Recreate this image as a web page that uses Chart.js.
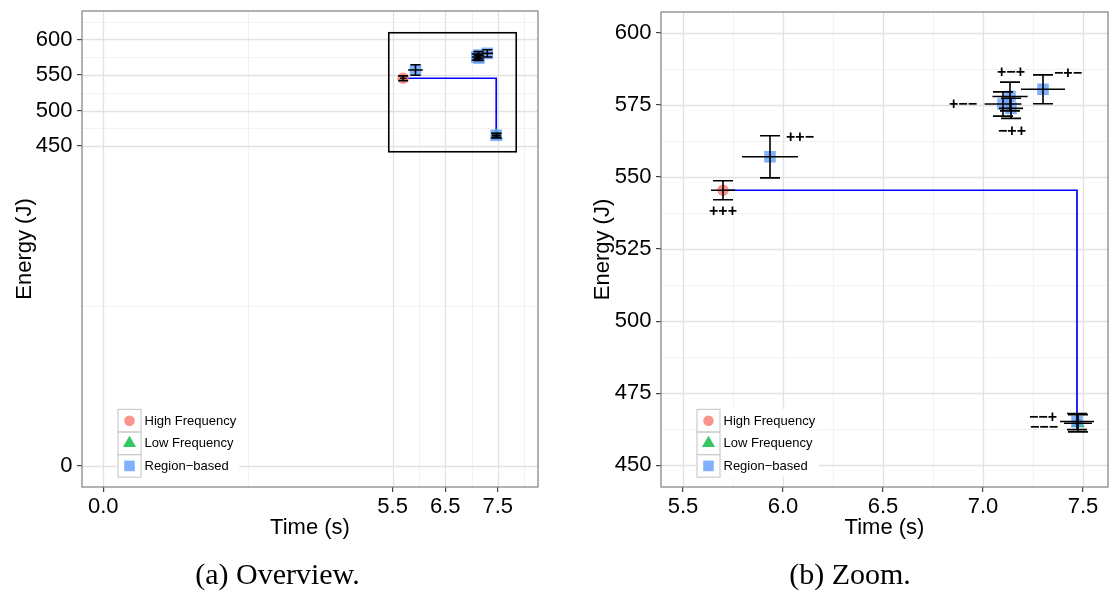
<!DOCTYPE html>
<html><head><meta charset="utf-8">
<script src="https://cdn.jsdelivr.net/npm/chart.js@4/dist/chart.umd.min.js"></script>
<style>
html,body{margin:0;padding:0;background:#fff;width:1110px;height:592px;overflow:hidden;}
.wrap{position:absolute;top:0;width:555px;height:592px;}
canvas{display:block;}
</style></head><body>
<div class="wrap" style="left:0"><canvas id="c1" width="555" height="592"></canvas></div>
<div class="wrap" style="left:555px"><canvas id="c2" width="555" height="592"></canvas></div>
<script>
// ---------------- data ----------------
const configLabels = ['+++','++−','+−+','+−−','−++','−+−','−−+','−−−'];
const configGroup  = ['High Frequency','Region−based','Region−based','Region−based','Region−based','Region−based','Region−based','Low Frequency'];
const timeMean     = [5.700, 5.935, 7.135, 7.100, 7.140, 7.300, 7.470, 7.475];
const timeErr      = [0.060, 0.140, 0.088, 0.092, 0.060, 0.110, 0.085, 0.070];
const energyMean   = [545.4, 557.0, 577.9, 575.3, 573.8, 580.4, 465.2, 464.6];
const energyErr    = [3.3, 7.3, 5.0, 4.2, 3.5, 5.0, 2.8, 3.0];
const labelTime    = [5.700, 6.085, 7.140, 6.900, 7.145, 7.425, 7.300, 7.305];
const labelEnergy  = [538.0, 563.6, 586.2, 575.2, 565.6, 585.7, 466.6, 463.1];
const frontTime    = [5.700, 7.470];
const frontEnergy  = [545.4, 465.2];
const zoomBoxTime   = [5.427, 7.850];
const zoomBoxEnergy = [442.0, 609.4];
const overviewTimeTicks   = [0, 5.5, 6.5, 7.5];
const overviewEnergyTicks = [0, 450, 500, 550, 600];
const zoomTimeTicks       = [5.5, 6.0, 6.5, 7.0, 7.5];
const zoomEnergyTicks     = [450, 475, 500, 525, 550, 575, 600];
const overviewTimeRange   = [-0.405, 8.264];
const overviewEnergyRange = [-29.5, 640];
const zoomTimeRange       = [5.39, 7.625];
const zoomEnergyRange     = [442.5, 607.2];
const seriesNames = ['High Frequency','Low Frequency','Region−based'];

// ---------------- style ----------------
const seriesColors = ['rgba(248,118,109,0.78)','rgba(0,186,56,0.8)','rgba(97,156,255,0.8)'];
const seriesShapes = ['circle','triangle','rect'];
const seriesRadius = [5.8, 7.8, 8.2];
const seriesOrder  = [1, 3, 2];
const SANS = 'Liberation Sans';

function minorOf(ticks, range){
  const out = [];
  for (let i = 0; i < ticks.length - 1; i++) out.push((ticks[i] + ticks[i+1]) / 2);
  const s0 = (ticks[1] - ticks[0]) / 2, s1 = (ticks[ticks.length-1] - ticks[ticks.length-2]) / 2;
  const lo = ticks[0] - s0, hi = ticks[ticks.length-1] + s1;
  if (lo > range[0]) out.push(lo);
  if (hi < range[1]) out.push(hi);
  return out;
}

function drawSymbol(ctx, shape, cx, cy, color){
  ctx.fillStyle = color;
  ctx.beginPath();
  if (shape === 'circle') { ctx.arc(cx, cy, 5.3, 0, Math.PI*2); }
  else if (shape === 'triangle') {
    const r = 7.6;
    ctx.moveTo(cx, cy - r); ctx.lineTo(cx + r*0.866, cy + r*0.5); ctx.lineTo(cx - r*0.866, cy + r*0.5); ctx.closePath();
  } else { const h = 5.3; ctx.rect(cx - h, cy - h, 2*h, 2*h); }
  ctx.fill();
}

function makeChart(id, o){
  const datasets = seriesNames.map((name, gi) => ({
    label: name,
    data: configGroup.map((g, i) => g === name ? {x: timeMean[i], y: energyMean[i]} : null).filter(Boolean),
    pointStyle: seriesShapes[gi],
    pointRadius: seriesRadius[gi],
    backgroundColor: seriesColors[gi],
    borderWidth: 0,
    order: seriesOrder[gi]
  }));
  datasets.push({
    label: 'front',
    data: frontTime.map((t, i) => ({x: t, y: frontEnergy[i]})),
    showLine: true, stepped: 'before', borderColor: '#0000ff', borderWidth: 1.7,
    pointRadius: 0, fill: false, order: 10
  });

  const minorX = minorOf(o.xTicks, o.xRange), minorY = minorOf(o.yTicks, o.yRange);

  const panelPlugin = {
    id: 'panel',
    beforeDatasetsDraw(chart){
      const {ctx, chartArea: a, scales: {x, y}} = chart;
      ctx.save();
      ctx.beginPath(); ctx.rect(a.left, a.top, a.width, a.height); ctx.clip();
      const vline = (v, c, w) => { const p = Math.round(x.getPixelForValue(v)) + 0.5; ctx.strokeStyle = c; ctx.lineWidth = w; ctx.beginPath(); ctx.moveTo(p, a.top); ctx.lineTo(p, a.bottom); ctx.stroke(); };
      const hline = (v, c, w) => { const p = Math.round(y.getPixelForValue(v)) + 0.5; ctx.strokeStyle = c; ctx.lineWidth = w; ctx.beginPath(); ctx.moveTo(a.left, p); ctx.lineTo(a.right, p); ctx.stroke(); };
      minorX.forEach(v => vline(v, '#f2f2f2', 1));
      minorY.forEach(v => hline(v, '#f2f2f2', 1));
      o.xTicks.forEach(v => vline(v, '#e2e2e2', 1.3));
      o.yTicks.forEach(v => hline(v, '#e2e2e2', 1.3));
      ctx.restore();
    },
    afterDatasetsDraw(chart){
      const {ctx, chartArea: a, scales: {x, y}} = chart;
      ctx.save();
      ctx.beginPath(); ctx.rect(a.left, a.top, a.width, a.height); ctx.clip();
      // error bars
      ctx.strokeStyle = '#000'; ctx.lineWidth = 1.6;
      for (let i = 0; i < timeMean.length; i++) {
        const px = x.getPixelForValue(timeMean[i]), py = y.getPixelForValue(energyMean[i]);
        const xl = x.getPixelForValue(timeMean[i] - timeErr[i]), xr = x.getPixelForValue(timeMean[i] + timeErr[i]);
        const yt = y.getPixelForValue(energyMean[i] + energyErr[i]), yb = y.getPixelForValue(energyMean[i] - energyErr[i]);
        const c = o.cap / 2;
        ctx.beginPath();
        ctx.moveTo(xl, py); ctx.lineTo(xr, py);
        ctx.moveTo(px, yt); ctx.lineTo(px, yb);
        ctx.moveTo(px - c, yt); ctx.lineTo(px + c, yt);
        ctx.moveTo(px - c, yb); ctx.lineTo(px + c, yb);
        ctx.stroke();
      }
      // point labels
      if (o.labels) {
        ctx.fillStyle = '#000';
        ctx.font = 'bold 16px "' + SANS + '"';
        ctx.textAlign = 'center'; ctx.textBaseline = 'middle';
        for (let i = 0; i < configLabels.length; i++) {
          ctx.fillText(configLabels[i], x.getPixelForValue(labelTime[i]), y.getPixelForValue(labelEnergy[i]));
        }
      }
      // zoom box
      if (o.box) {
        ctx.strokeStyle = '#000'; ctx.lineWidth = 1.6;
        const x0 = x.getPixelForValue(zoomBoxTime[0]), x1 = x.getPixelForValue(zoomBoxTime[1]);
        const y0 = y.getPixelForValue(zoomBoxEnergy[1]), y1 = y.getPixelForValue(zoomBoxEnergy[0]);
        ctx.strokeRect(x0, y0, x1 - x0, y1 - y0);
      }
      // legend
      const rowH = 22.6, keyW = 23;
      const lx = a.left + 35.5, ly = a.bottom - 10.3 - rowH * 3;
      ctx.font = '13px "' + SANS + '"';
      let tw = 0; seriesNames.forEach(n => tw = Math.max(tw, ctx.measureText(n).width));
      ctx.fillStyle = '#fff';
      ctx.fillRect(lx, ly, keyW + 4 + tw + 3, rowH * 3);
      seriesNames.forEach((n, gi) => {
        const ty = ly + gi * rowH;
        ctx.strokeStyle = '#cccccc'; ctx.lineWidth = 1.2;
        ctx.strokeRect(lx + 0.5, ty + 0.5, keyW, rowH);
        drawSymbol(ctx, seriesShapes[gi], lx + keyW/2 + 0.5, ty + rowH/2 + 0.5, seriesColors[gi]);
        ctx.fillStyle = '#000'; ctx.textAlign = 'left'; ctx.textBaseline = 'middle';
        ctx.fillText(n, lx + keyW + 4, ty + rowH/2 + 1);
      });
      ctx.restore();
    },
    afterDraw(chart){
      const {ctx, chartArea: a} = chart;
      ctx.save();
      ctx.strokeStyle = '#7f7f7f'; ctx.lineWidth = 1.2;
      ctx.strokeRect(a.left, a.top, a.width, a.height);
      ctx.fillStyle = '#000';
      ctx.font = '30px "Liberation Serif"';
      ctx.textAlign = 'center'; ctx.textBaseline = 'alphabetic';
      ctx.fillText(o.caption, o.captionX, 584);
      ctx.restore();
    }
  };

  const tickFont = {family: SANS, size: 22};
  return new Chart(document.getElementById(id), {
    type: 'scatter',
    data: {datasets},
    options: {
      responsive: false, animation: false, events: [],
      layout: {autoPadding: false, padding: {left: 0, top: o.top, right: o.right, bottom: 48}},
      plugins: {legend: {display: false}, tooltip: {enabled: false}},
      scales: {
        x: {
          type: 'linear', min: o.xRange[0], max: o.xRange[1],
          afterBuildTicks: s => { s.ticks = o.xTicks.map(v => ({value: v})); },
          afterFit: s => { s.height = 57; s.paddingLeft = 0; s.paddingRight = 0; },
          ticks: {callback: v => Number(v).toFixed(1), font: tickFont, color: '#000', padding: 2, maxRotation: 0, autoSkip: false},
          grid: {drawOnChartArea: false, drawTicks: true, tickLength: 5, tickColor: '#444', lineWidth: 1.2},
          border: {display: false},
          title: {display: true, text: 'Time (s)', font: tickFont, color: '#000', padding: {top: 0, bottom: 3.3}}
        },
        y: {
          type: 'linear', min: o.yRange[0], max: o.yRange[1],
          afterBuildTicks: s => { s.ticks = o.yTicks.map(v => ({value: v})); },
          afterFit: s => { s.width = o.yAxisW; s.paddingTop = 0; s.paddingBottom = 0; },
          ticks: {callback: v => String(v), font: tickFont, color: '#000', padding: 4.5, autoSkip: false},
          grid: {drawOnChartArea: false, drawTicks: true, tickLength: 5, tickColor: '#444', lineWidth: 1.2},
          border: {display: false},
          title: {display: true, text: 'Energy (J)', font: tickFont, color: '#000', padding: {top: o.yTitlePad, bottom: 0}}
        }
      }
    },
    plugins: [panelPlugin]
  });
}

makeChart('c1', {
  xTicks: overviewTimeTicks, yTicks: overviewEnergyTicks,
  xRange: overviewTimeRange, yRange: overviewEnergyRange,
  cap: 10, labels: false, box: true,
  top: 11, right: 17, yAxisW: 82, yTitlePad: 11.8,
  caption: '(a) Overview.', captionX: 277.5
});
makeChart('c2', {
  xTicks: zoomTimeTicks, yTicks: zoomEnergyTicks,
  xRange: zoomTimeRange, yRange: zoomEnergyRange,
  cap: 20, labels: true, box: false,
  top: 12, right: 2, yAxisW: 106, yTitlePad: 34.8,
  caption: '(b) Zoom.', captionX: 295
});
</script>
</body></html>
